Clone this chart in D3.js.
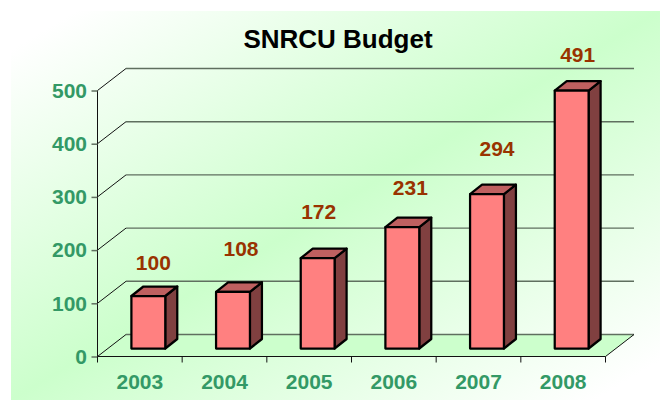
<!DOCTYPE html>
<html>
<head>
<meta charset="utf-8">
<script src="https://cdn.jsdelivr.net/npm/d3@7"></script>
<style>
  html, body { margin: 0; padding: 0; background: #fff; }
  svg { display: block; }
  text { font-family: "Liberation Sans", Arial, sans-serif; font-weight: bold; }
</style>
</head>
<body>
<script>
//==============================================================================
// DATA
//==============================================================================

const years = ['2003', '2004', '2005', '2006', '2007', '2008'];
const budget = [100, 108, 172, 231, 294, 491];
const yTicks = [0, 100, 200, 300, 400, 500];

//==============================================================================
// PARAMETERS
//==============================================================================

const width = 660;
const height = 400;

// 3d offset of the back wall, and of the bars' own depth
const depth = { x: 28.5, y: -22 };
const barDepth = { x: 12, y: -9.5 };
const barShift = 8.5;

// the value labels sit by hand above the bars, not at a fixed distance
const labelDx = [5, 8, 1, 8, 10, 6];
const labelDy = [-26, -36, -39, -32, -38, -29];

const x = d3.scaleBand().domain(years).range([97.5, 605.5]).paddingInner(0.6).paddingOuter(0.3);
const xTick = d3.scalePoint().domain(d3.range(years.length + 1)).range([97.5, 605.5]);
const y = d3.scaleLinear().domain([0, 500]).range([356.5, 90.5]);
const yBar = d3.scaleLinear().domain([0, 500]).range([348.5, 86]);

const svg = d3.select('body').append('svg')
  .attr('width', width)
  .attr('height', height);

const defs = svg.append('defs');
const grad = defs.append('linearGradient')
  .attr('id', 'bg')
  .attr('x1', '0%').attr('y1', '0%')
  .attr('x2', '100%').attr('y2', '100%');
grad.append('stop').attr('offset', '5%').attr('stop-color', '#ffffff');
grad.append('stop').attr('offset', '50%').attr('stop-color', '#ccffcc');
grad.append('stop').attr('offset', '95%').attr('stop-color', '#ffffff');

//==============================================================================
// DRAW
//==============================================================================

// background
svg.append('rect')
  .attr('x', 11).attr('y', 11)
  .attr('width', width - 11).attr('height', height - 11)
  .attr('fill', 'url(#bg)');

// title
svg.append('text')
  .attr('x', 338).attr('y', 48)
  .attr('text-anchor', 'middle')
  .attr('font-size', 26)
  .attr('fill', '#000')
  .text('SNRCU Budget');

// floor
const x0 = xTick(0);
const x1 = xTick(years.length);
svg.append('path')
  .attr('d', d3.line()([[x0, y(0)], [x0 + depth.x, y(0) + depth.y], [x1 + depth.x, y(0) + depth.y], [x1, y(0)]]) + 'Z')
  .attr('fill', '#ccffcc');

// grid lines on the back wall and the side wall
const grid = svg.append('g').attr('class', 'grid');
grid.selectAll('line.back')
  .data(yTicks)
  .enter().append('line')
  .attr('class', 'back')
  .attr('x1', x0 + depth.x).attr('x2', x1 + depth.x)
  .attr('y1', d => y(d) + depth.y).attr('y2', d => y(d) + depth.y)
  .attr('stroke', '#5f6f5f').attr('stroke-width', 1.4);
grid.selectAll('line.side')
  .data(yTicks)
  .enter().append('line')
  .attr('class', 'side')
  .attr('x1', x0).attr('x2', x0 + depth.x)
  .attr('y1', d => y(d)).attr('y2', d => y(d) + depth.y)
  .attr('stroke', '#111').attr('stroke-width', 1);

// floor right edge
svg.append('line')
  .attr('x1', x1).attr('y1', y(0))
  .attr('x2', x1 + depth.x).attr('y2', y(0) + depth.y)
  .attr('stroke', '#111').attr('stroke-width', 1);

// y axis
svg.append('g')
  .attr('transform', `translate(${x0},0)`)
  .call(d3.axisLeft(y).tickValues(yTicks).tickSize(6).tickPadding(4.5).tickFormat(d3.format('d')))
  .call(g => g.select('.domain').attr('stroke', '#111').attr('d', `M0,${y(500)}V${y(0)}`))
  .call(g => g.selectAll('.tick line').attr('stroke', '#5f6f5f').attr('stroke-width', 1.5))
  .call(g => g.selectAll('text')
    .attr('font-size', 21)
    .attr('fill', '#339966')
    .style('font-family', '"Liberation Sans", Arial, sans-serif'));

// x axis
svg.append('line')
  .attr('x1', x0).attr('x2', x1)
  .attr('y1', y(0)).attr('y2', y(0))
  .attr('stroke', '#111').attr('stroke-width', 1.2);
svg.append('g').selectAll('line')
  .data(d3.range(years.length + 1))
  .enter().append('line')
  .attr('x1', d => xTick(d)).attr('x2', d => xTick(d))
  .attr('y1', y(0)).attr('y2', y(0) + 6)
  .attr('stroke', '#111').attr('stroke-width', 1);
svg.append('g').selectAll('text')
  .data(years)
  .enter().append('text')
  .attr('x', d => x(d) + x.bandwidth() / 2)
  .attr('y', 389)
  .attr('text-anchor', 'middle')
  .attr('font-size', 21)
  .attr('fill', '#339966')
  .text(d => d);

// bars
const bars = svg.append('g').attr('class', 'bars')
  .selectAll('g')
  .data(years.map((d, i) => ({ year: d, value: budget[i] })))
  .enter().append('g')
  .attr('stroke', '#000')
  .attr('stroke-width', 2.25)
  .attr('stroke-linejoin', 'round');

const bx = d => x(d.year) + barShift;
const bw = x.bandwidth();

bars.append('path')
  .attr('fill', '#804040')
  .attr('d', d => d3.line()([
    [bx(d) + bw, yBar(d.value)],
    [bx(d) + bw + barDepth.x, yBar(d.value) + barDepth.y],
    [bx(d) + bw + barDepth.x, yBar(0) + barDepth.y],
    [bx(d) + bw, yBar(0)]]) + 'Z');

bars.append('path')
  .attr('fill', '#bf6060')
  .attr('d', d => d3.line()([
    [bx(d), yBar(d.value)],
    [bx(d) + barDepth.x, yBar(d.value) + barDepth.y],
    [bx(d) + bw + barDepth.x, yBar(d.value) + barDepth.y],
    [bx(d) + bw, yBar(d.value)]]) + 'Z');

bars.append('rect')
  .attr('fill', '#ff8080')
  .attr('x', d => bx(d))
  .attr('y', d => yBar(d.value))
  .attr('width', bw)
  .attr('height', d => yBar(0) - yBar(d.value));

// value labels
svg.append('g').selectAll('text')
  .data(budget)
  .enter().append('text')
  .attr('x', (d, i) => x(years[i]) + barShift + bw / 2 + labelDx[i])
  .attr('y', (d, i) => yBar(d) + labelDy[i])
  .attr('text-anchor', 'middle')
  .attr('font-size', 21)
  .attr('fill', '#993300')
  .text(d => d);
</script>
</body>
</html>
